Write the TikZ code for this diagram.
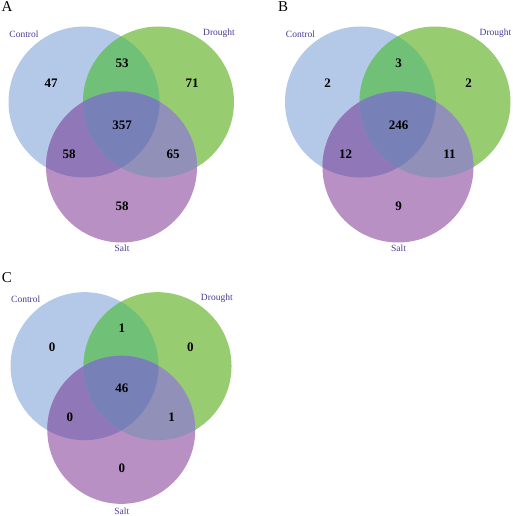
\documentclass[tikz,border=0pt]{standalone}
\usepackage{fontspec}
\setmainfont{Liberation Serif}
\definecolor{cblue}{RGB}{180,200,232}
\definecolor{cgreen}{RGB}{152,204,112}
\definecolor{cpurple}{RGB}{184,144,196}
\definecolor{ccd}{RGB}{112,192,120}
\definecolor{ccs}{RGB}{144,120,184}
\definecolor{cds}{RGB}{144,144,184}
\definecolor{call}{RGB}{120,128,184}
\definecolor{labcol}{RGB}{70,60,150}
\tikzset{
  num/.style={font=\bfseries\fontsize{13}{13}\selectfont, inner sep=0pt},
  lab/.style={text=labcol, font=\fontsize{9.5}{10}\selectfont, inner sep=0pt},
  panelletter/.style={font=\fontsize{15}{15}\selectfont, inner sep=0pt}
}
\newcommand\vennshapes{%
  \fill[cblue] (84,102) circle (75.5);
  \fill[cgreen] (158.5,102) circle (75.5);
  \fill[cpurple] (121.5,167) circle (75.5);
  \begin{scope}\clip (84,102) circle (75.5); \fill[ccd] (158.5,102) circle (75.5);\end{scope}
  \begin{scope}\clip (84,102) circle (75.5); \fill[ccs] (121.5,167) circle (75.5);\end{scope}
  \begin{scope}\clip (158.5,102) circle (75.5); \fill[cds] (121.5,167) circle (75.5);\end{scope}
  \begin{scope}\clip (84,102) circle (75.5); \clip (158.5,102) circle (75.5); \fill[call] (121.5,167) circle (75.5);\end{scope}
}
\newcommand\vennnums[9]{%
  \node[lab] (#1-c) at (24,34) {Control};
  \node[lab] (#1-d) at (219,33) {Drought};
  \node[lab] (#1-s) at (122,#9) {Salt};
  \node[num] (#1-n1) at (51,83) {#2};
  \node[num] (#1-n2) at (122,63) {#3};
  \node[num] (#1-n3) at (192,83) {#4};
  \node[num] (#1-n4) at (122,125) {#5};
  \node[num] (#1-n5) at (69,154) {#6};
  \node[num] (#1-n6) at (173,154) {#7};
  \node[num] (#1-n7) at (122,206) {#8};
}
\begin{document}
\begin{tikzpicture}[x=1pt,y=-1pt]
\useasboundingbox (0,0) rectangle (512,516);
\begin{scope}
  \vennshapes
  \vennnums{a}{47}{53}{71}{357}{58}{65}{58}{248.5}
\end{scope}
\begin{scope}[shift={(276.5,0)}]
  \vennshapes
  \vennnums{b}{2}{3}{2}{246}{12}{11}{9}{248.5}
\end{scope}
\begin{scope}[shift={(2.2,266.2)}, scale=0.98]
  \vennshapes
  \vennnums{c}{0}{1}{0}{46}{0}{1}{0}{250}
\end{scope}
\node[panelletter] (la) at (7,7) {A};
\node[panelletter] (lb) at (283,7) {B};
\node[panelletter] (lc) at (7,278) {C};
\end{tikzpicture}
\end{document}
